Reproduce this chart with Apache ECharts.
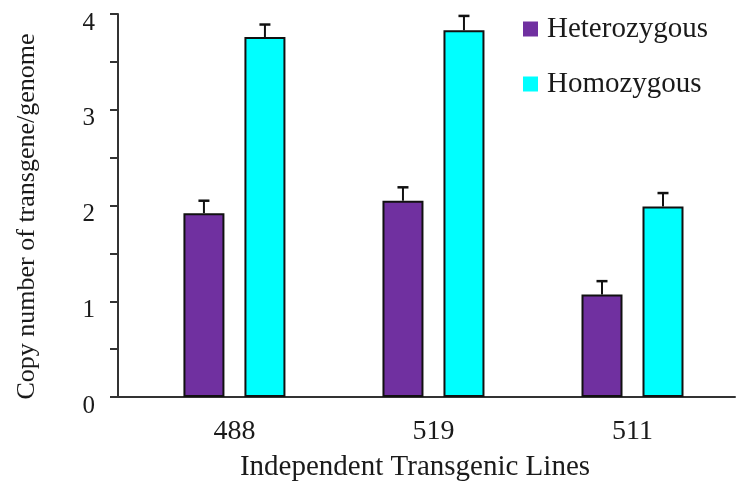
<!DOCTYPE html>
<html>
<head>
<meta charset="utf-8">
<script src="https://cdn.jsdelivr.net/npm/echarts@6/dist/echarts.min.js"></script>
<style>html,body{margin:0;padding:0;background:#fff;}#c{width:751px;height:498px;}</style>
</head>
<body>
<div id="c"></div>
<script>
var categories = ['488', '519', '511'];
var seriesNames = ['Heterozygous', 'Homozygous'];
var hetero = [1.92, 2.05, 1.07];
var heteroErr = [0.13, 0.14, 0.14];
var homo = [3.76, 3.83, 1.99];
var homoErr = [0.13, 0.15, 0.14];
var yTicks = [0, 1, 2, 3, 4];

var FONT = "'Liberation Serif', 'Times New Roman', serif";
var BAR_W = 41, GAP_W = 20;
var OFF = (BAR_W + GAP_W) / 2;

function barData(vals) { return vals.map(function (v, i) { return [i, v]; }); }
function errData(vals, errs) { return vals.map(function (v, i) { return [i, v, errs[i]]; }); }
function errRender(sign) {
  return function (params, api) {
    var x = api.value(0), v = api.value(1), e = api.value(2);
    var b = api.coord([x, v]), t = api.coord([x, v + e]);
    var cx = b[0] + sign * OFF;
    return {
      type: 'group',
      children: [
        { type: 'line', shape: { x1: cx, y1: b[1], x2: cx, y2: t[1] }, style: { stroke: '#111', lineWidth: 2 } },
        { type: 'line', shape: { x1: cx - 5.5, y1: t[1], x2: cx + 5.5, y2: t[1] }, style: { stroke: '#111', lineWidth: 2.5 } }
      ]
    };
  };
}

var chart = echarts.init(document.getElementById('c'), null, { renderer: 'canvas' });
chart.setOption({
  backgroundColor: '#fff',
  animation: false,
  textStyle: { fontFamily: FONT },
  grid: { left: 118, right: 16, top: 14, bottom: 101, containLabel: false },
  legend: {
    data: seriesNames,
    orient: 'vertical',
    left: 518,
    top: 9,
    icon: 'rect',
    itemWidth: 15,
    itemHeight: 15,
    itemGap: 25,
    itemStyle: { borderWidth: 0 },
    textStyle: { fontFamily: FONT, fontSize: 29, color: '#1a1a1a', lineHeight: 30, padding: [0, 0, 0, 4] }
  },
  xAxis: {
    type: 'value',
    min: -0.585,
    max: 2.515,
    name: 'Independent Transgenic Lines',
    nameLocation: 'middle',
    nameGap: 56,
    nameTextStyle: { fontFamily: FONT, fontSize: 29, color: '#1a1a1a', padding: [0, 23, 0, 0] },
    axisLine: { show: true, onZero: false, lineStyle: { color: '#333', width: 2 } },
    axisTick: { show: false },
    splitLine: { show: false },
    axisLabel: {
      customValues: [0, 1, 2],
      formatter: function (v) { return categories[Math.round(v)]; },
      fontFamily: FONT, fontSize: 28, color: '#1a1a1a', margin: 21
    }
  },
  yAxis: {
    type: 'value',
    min: 0,
    max: 4,
    interval: 0.5,
    name: 'Copy number of transgene/genome',
    nameLocation: 'middle',
    nameRotate: 90,
    nameGap: 78,
    nameTextStyle: { fontFamily: FONT, fontSize: 26, color: '#1a1a1a', padding: [0, 22, 0, 0] },
    axisLine: { show: true, onZero: false, lineStyle: { color: '#333', width: 2 } },
    axisTick: { show: true, inside: false, length: 8, lineStyle: { color: '#333', width: 2 } },
    splitLine: { show: false },
    axisLabel: {
      formatter: function (v) { return yTicks.indexOf(v) >= 0 ? String(v) : ''; },
      fontFamily: FONT, fontSize: 25, color: '#1a1a1a', margin: 23,
      verticalAlign: 'top', lineHeight: 18
    }
  },
  series: [
    {
      name: seriesNames[0], type: 'bar', data: barData(hetero),
      barWidth: BAR_W, barGap: (GAP_W / BAR_W * 100) + '%',
      itemStyle: { color: '#7030A0', borderColor: '#111', borderWidth: 2 }
    },
    {
      name: seriesNames[1], type: 'bar', data: barData(homo),
      barWidth: BAR_W, barGap: (GAP_W / BAR_W * 100) + '%',
      itemStyle: { color: '#00FFFF', borderColor: '#111', borderWidth: 2 }
    },
    { type: 'custom', renderItem: errRender(-1), data: errData(hetero, heteroErr), encode: { x: 0, y: 1 }, z: 3 },
    { type: 'custom', renderItem: errRender(1), data: errData(homo, homoErr), encode: { x: 0, y: 1 }, z: 3 }
  ]
});
</script>
</body>
</html>
